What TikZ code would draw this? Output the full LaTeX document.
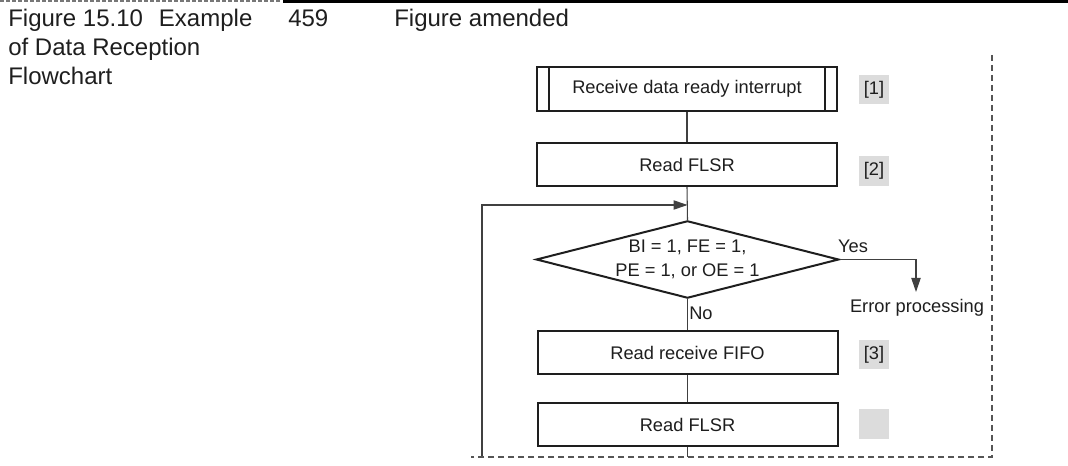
\documentclass[tikz,border=0pt]{standalone}
\usepackage{fontspec}
\setmainfont{Liberation Sans}
\usetikzlibrary{arrows.meta,shapes.geometric}
\definecolor{ink}{HTML}{1E1E1E}
\definecolor{lblgray}{HTML}{DCDCDC}
\definecolor{framegray}{HTML}{555555}
\tikzset{
  txt/.style={font=\fontsize{13.7pt}{16.5pt}\selectfont, text=ink, inner sep=0pt},
  captxt/.style={font=\fontsize{18pt}{21pt}\selectfont, text=ink, inner sep=0pt},
  procbox/.style={txt, draw=ink, line width=1.5pt, fill=white, minimum width=225pt, minimum height=32.5pt},
  tagbox/.style={txt, fill=lblgray, minimum width=22.5pt, minimum height=22pt},
  decision/.style={diamond, draw=ink, line width=1.5pt, minimum width=227pt, minimum height=58pt, inner sep=0pt},
  conn/.style={draw=ink!85, line width=0.8pt},
  arr/.style={conn, -{Triangle[length=10.5pt,width=7pt]}},
  frame/.style={draw=framegray, line width=1pt, dash pattern=on 4.5pt off 3pt},
}
\begin{document}
\begin{tikzpicture}[x=0.75pt,y=-0.75pt]
\useasboundingbox (0,0) rectangle (1068,466);
% page header rules
\draw[framegray!80, line width=1.5pt, dash pattern=on 3pt off 1.5pt] (0,1) -- (280,1);
\draw[black, line width=2.2pt] (283,1.3) -- (1068,1.3);
% header text
\node[captxt, anchor=base west] (cap1) at (8,27) {Figure 15.10\hspace{12pt}Example};
\node[captxt, anchor=base west] (cap2) at (8,56) {of Data Reception};
\node[captxt, anchor=base west] (cap3) at (8,85) {Flowchart};
\node[captxt, anchor=base west] (pg) at (288,27) {459};
\node[captxt, anchor=base west] (amend) at (394,27) {Figure amended};
% flowchart
\node[procbox] (b1) at (687,89) {Receive data ready interrupt};
\draw[ink, line width=1.2pt] ([xshift=9.75pt]b1.north west) -- ([xshift=9.75pt]b1.south west)
  ([xshift=-9.75pt]b1.north east) -- ([xshift=-9.75pt]b1.south east);
\node[procbox] (b2) at (687,164.5) {Read FLSR};
\node[decision] (dia) at (687.5,259.5) {};
\node[txt, align=center] (dtxt) at (687.5,259.5) {BI = 1, FE = 1,\\[2pt]PE = 1, or OE = 1};
\node[procbox] (b3) at (687.5,352.5) {Read receive FIFO};
\node[procbox] (b4) at (687.5,424.5) {Read FLSR};
% tags
\node[tagbox] (t1) at (874,89.5) {[1]};
\node[tagbox] (t2) at (874,171) {[2]};
\node[tagbox] (t3) at (874,354.5) {[3]};
\node[tagbox] (t4) at (874,424) {};
% connectors
\coordinate (jn) at (687.5,205);
\coordinate (lb) at (482,457);
\coordinate (bot) at (687.5,457);
\coordinate (yc) at (916,259.5);
\coordinate (ye) at (916,292);
\draw[conn] (b1.south) -- (b2.north);
\draw[conn] (b2.south) -- (dia.north);
\draw[conn] (dia.south) -- (b3.north);
\draw[conn] (b3.south) -- (b4.north);
\draw[conn] (b4.south) -- (bot);
\draw[arr] (lb) -- (lb |- jn) -- (jn);
\draw[arr] (dia.east) -- (yc) -- (ye);
\node[txt] (yes) at (853,246) {Yes};
\node[txt, anchor=west] (no) at (689,313) {No};
\node[txt] (err) at (917,308) {Error processing};
% crop frame
\coordinate (fr) at (992,55);
\coordinate (fb) at (471,457);
\draw[frame] (fr) -- (fr |- fb) -- (fb);
\end{tikzpicture}
\end{document}
